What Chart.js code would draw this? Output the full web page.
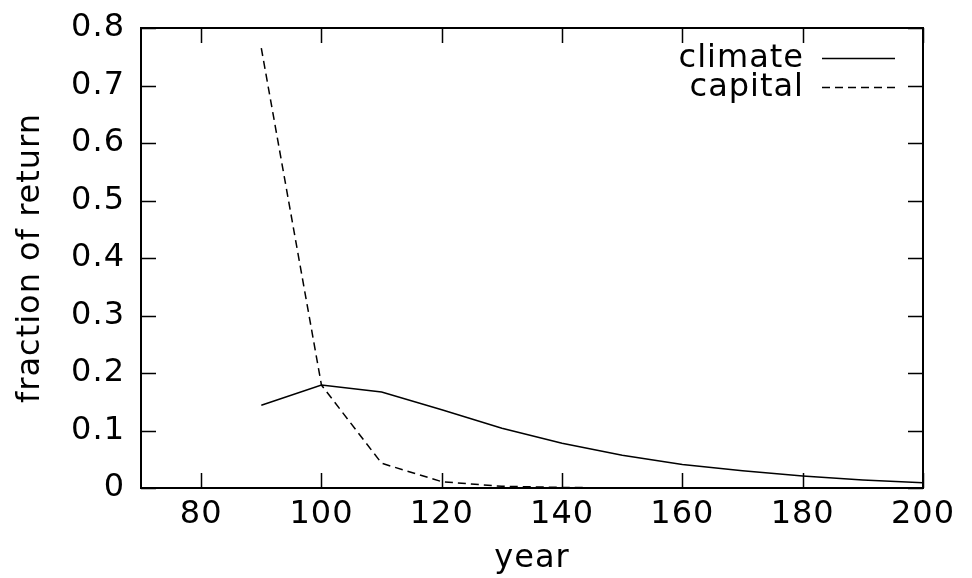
<!DOCTYPE html>
<html>
<head>
<meta charset="utf-8">
<script src="https://cdn.jsdelivr.net/npm/chart.js@4"></script>
<style>
  html, body { margin: 0; padding: 0; background: #fff; }
  #wrap { width: 972px; height: 578px; }
</style>
</head>
<body>
<div id="wrap"><canvas id="chart" width="972" height="578"></canvas></div>
<script>
// === datos ===
const years = [90, 100, 110, 120, 130, 140, 150, 160, 170, 180, 190, 200];
const climate = [0.144, 0.179, 0.167, 0.136, 0.104, 0.078, 0.057, 0.041, 0.030, 0.021, 0.014, 0.009];
const capital = [0.765, 0.179, 0.043, 0.011, 0.003, 0.001, 0, 0, 0, 0, 0, 0];
const xTicks = [80, 100, 120, 140, 160, 180, 200];
const yTicks = [0, 0.1, 0.2, 0.3, 0.4, 0.5, 0.6, 0.7, 0.8];
const seriesNames = ["climate", "capital"];

const FONT = "'DejaVu Sans', sans-serif";
const SPACING = "1px";

// espaciado de letras un poco más ancho, como en gnuplot
const letterSpacing = {
    id: "letterSpacing",
    beforeUpdate(chart) {
        chart.ctx.letterSpacing = SPACING;
    },
    beforeDraw(chart) {
        chart.ctx.letterSpacing = SPACING;
    },
};

// marco + marcas hacia dentro + leyenda (estilo gnuplot)
const gnuplotFrame = {
    id: "gnuplotFrame",
    afterDatasetsDraw(chart) {
        const { ctx, chartArea: a, scales } = chart;
        const tl = 15;
        ctx.save();
        ctx.strokeStyle = "#000";
        ctx.lineWidth = 1.5;
        ctx.beginPath();
        scales.x.ticks.forEach((t) => {
            const px = Math.round(scales.x.getPixelForValue(t.value)) + 0.5;
            ctx.moveTo(px, a.bottom);
            ctx.lineTo(px, a.bottom - tl);
            ctx.moveTo(px, a.top);
            ctx.lineTo(px, a.top + tl);
        });
        scales.y.ticks.forEach((t) => {
            const py = Math.round(scales.y.getPixelForValue(t.value)) + 0.5;
            ctx.moveTo(a.left, py);
            ctx.lineTo(a.left + tl, py);
            ctx.moveTo(a.right, py);
            ctx.lineTo(a.right - tl, py);
        });
        ctx.stroke();
        ctx.lineWidth = 2;
        ctx.strokeRect(a.left, a.top, a.right - a.left, a.bottom - a.top);

        // leyenda
        ctx.font = "32px " + FONT;
        ctx.letterSpacing = SPACING;
        ctx.fillStyle = "#000";
        ctx.textAlign = "right";
        ctx.textBaseline = "alphabetic";
        chart.data.datasets.forEach((ds, i) => {
            const y = 58 + i * 29;
            ctx.fillText(ds.label, 804, y + 9);
            ctx.lineWidth = 1.5;
            ctx.setLineDash(ds.borderDash || []);
            ctx.beginPath();
            ctx.moveTo(822, y + 0.5);
            ctx.lineTo(895, y + 0.5);
            ctx.stroke();
            ctx.setLineDash([]);
        });
        ctx.restore();
    },
};

const ctx = document.getElementById("chart").getContext("2d");
new Chart(ctx, {
    type: "line",
    data: {
        labels: years,
        datasets: [
            {
                label: seriesNames[0],
                data: years.map((x, i) => ({ x: x, y: climate[i] })),
                borderColor: "#000",
                borderWidth: 1.5,
                pointRadius: 0,
                tension: 0,
            },
            {
                label: seriesNames[1],
                data: years.map((x, i) => ({ x: x, y: capital[i] })),
                borderColor: "#000",
                borderWidth: 1.5,
                borderDash: [8, 5],
                pointRadius: 0,
                tension: 0,
            },
        ],
    },
    options: {
        responsive: false,
        animation: false,
        devicePixelRatio: 1,
        layout: { padding: { top: 28, right: 49, left: 0, bottom: 0 } },
        plugins: {
            legend: { display: false },
            tooltip: { enabled: false },
        },
        scales: {
            x: {
                type: "linear",
                min: 70,
                max: 200,
                afterBuildTicks: (s) => {
                    s.ticks = xTicks.map((v) => ({ value: v }));
                },
                afterFit: (s) => {
                    s.height = 90;
                    s.paddingLeft = 0;
                    s.paddingRight = 0;
                },
                grid: { display: false, drawTicks: false },
                border: { display: false },
                ticks: {
                    color: "#000",
                    font: { family: FONT, size: 32 },
                    padding: 7,
                    maxRotation: 0,
                    autoSkip: false,
                },
                title: {
                    display: true,
                    text: "year",
                    color: "#000",
                    font: { family: FONT, size: 32 },
                    padding: 0,
                },
            },
            y: {
                min: 0,
                max: 0.8,
                afterBuildTicks: (s) => {
                    s.ticks = yTicks.map((v) => ({ value: v }));
                },
                afterFit: (s) => {
                    s.width = 141;
                    s.paddingTop = 0;
                    s.paddingBottom = 0;
                },
                grid: { display: false, drawTicks: false },
                border: { display: false },
                ticks: {
                    color: "#000",
                    font: { family: FONT, size: 32 },
                    padding: 16,
                    autoSkip: false,
                    callback: (v) => String(Math.round(v * 10) / 10),
                },
                title: {
                    display: true,
                    text: "fraction of return",
                    color: "#000",
                    font: { family: FONT, size: 32 },
                    padding: { top: 11, bottom: 0 },
                },
            },
        },
    },
    plugins: [letterSpacing, gnuplotFrame],
});
</script>
</body>
</html>
